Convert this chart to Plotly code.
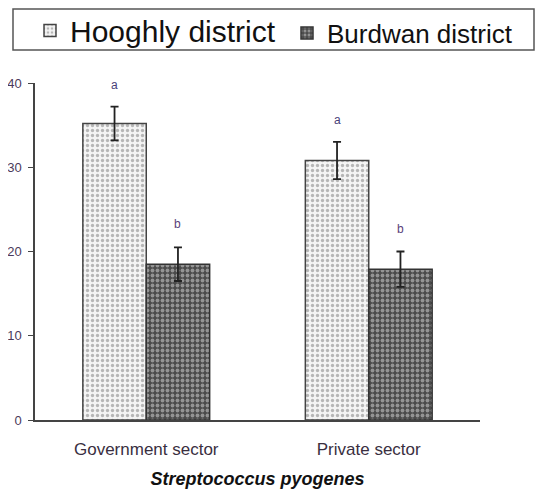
import plotly.graph_objects as go

categories = ["Government sector", "Private sector"]
hooghly = [35.2, 30.8]
hooghly_err = [2.0, 2.2]
burdwan = [18.5, 17.9]
burdwan_err = [2.0, 2.1]
hooghly_letters = ["a", "a"]
burdwan_letters = ["b", "b"]
y_ticks = [0, 10, 20, 30, 40]

bargap = 0.43
W, H = 528, 481
L, T, R, B = 27, 75, 56, 69
pw, ph = W - L - R, H - T - B


def px_x(x):
    return (x - L) / pw


def px_y(y):
    return 1 + (T - y) / ph


fig = go.Figure()
fig.add_trace(go.Bar(
    name="Hooghly district", x=categories, y=hooghly, legend="legend",
    error_y=dict(type="data", array=hooghly_err, color="#222", thickness=1.8, width=4),
    marker=dict(color="white", line=dict(color="#444", width=1.5),
                pattern=dict(shape=".", fgcolor="#777", bgcolor="#f4f4f4", size=5, solidity=0.35)),
))
fig.add_trace(go.Bar(
    name="Burdwan district", x=categories, y=burdwan, legend="legend2",
    error_y=dict(type="data", array=burdwan_err, color="#222", thickness=1.8, width=4),
    marker=dict(color="white", line=dict(color="#333", width=1.5),
                pattern=dict(shape=".", fgcolor="#dddddd", bgcolor="#4a4a4a", size=5, solidity=0.45)),
))

off = (1 - bargap) / 4
for i in range(len(categories)):
    fig.add_annotation(x=i - off, y=hooghly[i] + hooghly_err[i], text=hooghly_letters[i],
                       showarrow=False, yanchor="middle", yshift=22,
                       font=dict(size=12, color="#4a3f7a", family="Arial"))
    fig.add_annotation(x=i + off, y=burdwan[i] + burdwan_err[i], text=burdwan_letters[i],
                       showarrow=False, yanchor="middle", yshift=23,
                       font=dict(size=12, color="#5a3f7a", family="Arial"))

fig.add_shape(type="rect", xref="paper", yref="paper",
              x0=px_x(5), x1=px_x(526), y0=px_y(42), y1=px_y(1),
              line=dict(color="#555", width=1.5), fillcolor="rgba(0,0,0,0)")

common_legend = dict(orientation="h", yanchor="middle", xanchor="left",
                     xref="container", yref="container",
                     itemwidth=30, bgcolor="rgba(0,0,0,0)", borderwidth=0)

fig.update_layout(
    width=W, height=H,
    margin=dict(l=L, r=R, t=T, b=B, autoexpand=False),
    paper_bgcolor="white", plot_bgcolor="white",
    barmode="group", bargap=bargap, bargroupgap=0,
    showlegend=True,
    legend=dict(common_legend, x=22 / W, y=1 - 22.5 / H,
                font=dict(size=30, family="Arial", color="#111")),
    legend2=dict(common_legend, x=279 / W, y=1 - 25 / H,
                 font=dict(size=26, family="Arial", color="#111")),
    font=dict(family="Arial", color="#333"),
    xaxis=dict(range=[-0.5, 1.5], showline=True, linecolor="#444", linewidth=1.5, automargin=False,
               ticks="", ticklabelstandoff=13, tickfont=dict(size=17, color="#3a2f3f"),
               title=dict(text="<b><i>Streptococcus pyogenes</i></b>", standoff=23,
                          font=dict(size=18, color="#111"))),
    yaxis=dict(range=[0, 40], tickvals=y_ticks, showline=True, linecolor="#444", linewidth=1.5,
               automargin=False, ticklabelstandoff=4,
               ticks="outside", ticklen=5, tickcolor="#444", showgrid=False, zeroline=False,
               tickfont=dict(size=13, color="#4b3a5a")),
)

fig.write_html("out.html")
